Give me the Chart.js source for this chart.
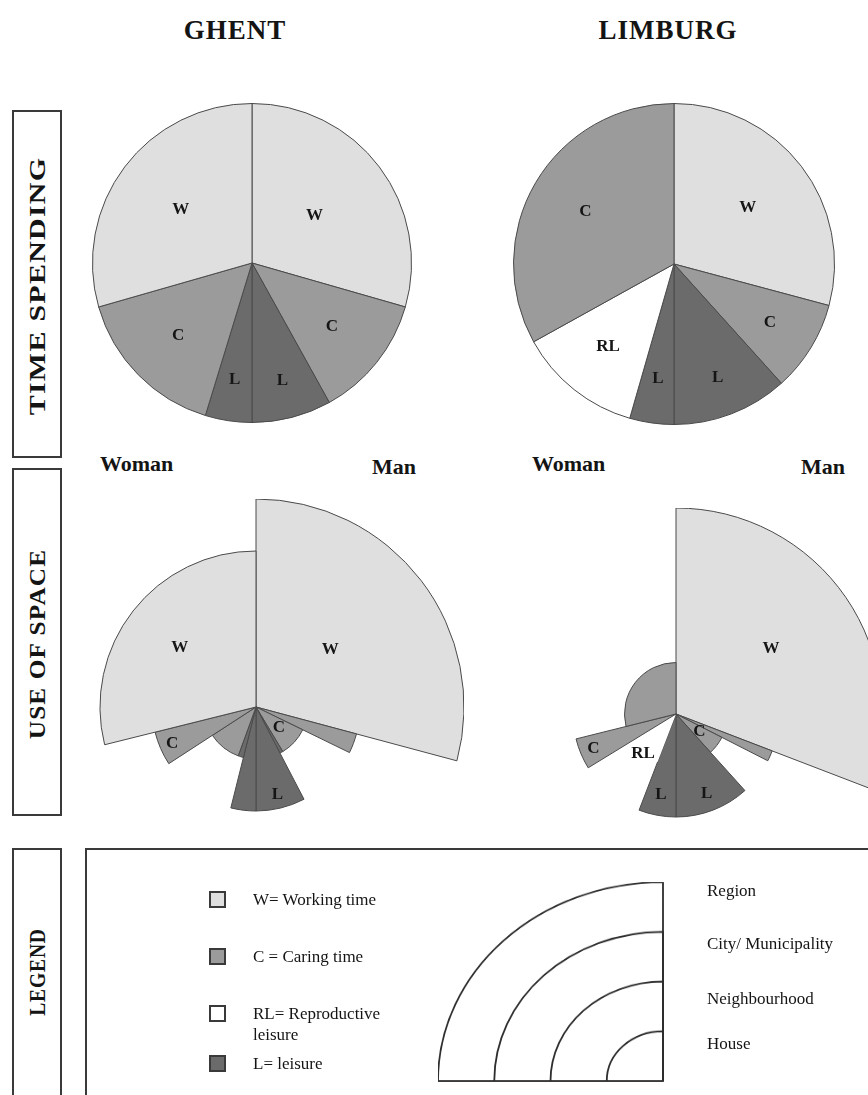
<!DOCTYPE html>
<html>
<head>
<meta charset="utf-8">
<script src="https://cdn.jsdelivr.net/npm/chart.js@4"></script>
<style>
html,body{margin:0;padding:0;background:#fff;overflow:hidden;}
#page{position:relative;width:868px;height:1095px;overflow:hidden;font-family:"Liberation Serif","DejaVu Serif",serif;color:#141414;}
canvas{position:absolute;}
.txt{position:absolute;white-space:nowrap;}
.box{position:absolute;border:2px solid #3a3a3a;box-sizing:border-box;}
.rowlabel{position:absolute;left:50%;top:50%;font-weight:bold;font-size:23px;line-height:23px;letter-spacing:1px;white-space:nowrap;}
.sq{position:absolute;width:17px;height:17px;border:2px solid #3a3a3a;box-sizing:border-box;}
</style>
</head>
<body>
<div id="page">
  <div class="box" id="row0" style="left:12px;top:110px;width:50px;height:348px;"></div>
  <div class="box" id="row1" style="left:12px;top:468px;width:50px;height:348px;"></div>
  <div class="box" id="row2" style="left:12px;top:848px;width:50px;height:300px;"></div>
  <div class="box" style="left:85px;top:848px;width:900px;height:400px;"></div>
  <canvas id="ghentTime" width="320" height="320" style="left:92px;top:103px;"></canvas>
  <canvas id="limburgTime" width="322" height="322" style="left:513px;top:103px;"></canvas>
  <canvas id="ghentSpace" width="416" height="416" style="left:48px;top:499px;"></canvas>
  <canvas id="limburgSpace" width="412" height="412" style="left:470px;top:508px;"></canvas>
  <canvas id="legendArcs" width="450" height="450" style="left:438px;top:856px;transform-origin:225px 225px;transform:scale(1,0.884);"></canvas>
</div>
<script>
// ---------- data ----------
const cities = ['GHENT', 'LIMBURG'];
const rowTitles = ['TIME SPENDING', 'USE OF SPACE', 'LEGEND'];
const genders = ['Woman', 'Man'];

// Time spending pies: degrees of arc, clockwise from 12 o'clock (Man half, then Woman half; each half = 180)
const ghentTimeCats   = ['W', 'C', 'L', 'L', 'C', 'W'];
const ghentTimeDeg    = [106, 45, 29, 17, 57, 106];
const limburgTimeCats = ['W', 'C', 'L', 'L', 'RL', 'C'];
const limburgTimeDeg  = [105, 33, 42, 16, 45, 119];

// Use of space: arc angle (degrees, clockwise from 12 o'clock) and spatial level reached (1..4)
const spaceLevels = ['House', 'Neighbourhood', 'City/ Municipality', 'Region'];
const ghentSpaceCats    = ['W', 'C', 'C', 'L', 'L', 'L', 'L', 'C', 'C', 'W'];
const ghentSpaceDeg     = [105, 11, 33, 3.5, 27.5, 14, 6, 37, 19, 104];
const ghentSpaceLevel   = [4, 2, 1, 1, 2, 2, 1, 1, 2, 3];
const limburgSpaceCats  = ['W', 'C', 'C', 'L', 'L', 'RL', 'C', 'C'];
const limburgSpaceDeg   = [111, 6, 21, 42, 21, 37.5, 17.5, 104];
const limburgSpaceLevel = [4, 2, 1, 2, 2, 1, 2, 1];

const legendCats  = ['W', 'C', 'RL', 'L'];
const legendTexts = ['W= Working time', 'C = Caring time', 'RL= Reproductive leisure', 'L= leisure'];

// ---------- styles ----------
const COLORS = {W: '#dfdfdf', C: '#9b9b9b', L: '#6b6b6b', RL: '#ffffff'};
const EDGE = '#4a4a4a';
const page = document.getElementById('page');

function addText(str, x, y, css, anchor) {
  const d = document.createElement('div');
  d.className = 'txt';
  d.textContent = str;
  d.style.cssText += css;
  d.style.left = x + 'px';
  d.style.top = y + 'px';
  d.style.transform = anchor === 'center' ? 'translate(-50%,-50%)' : 'translate(0,-50%)';
  page.appendChild(d);
  return d;
}

// titles
const titleX = [235, 668];
cities.forEach((c, i) => addText(c, titleX[i], 30, 'font-weight:bold;font-size:27px;line-height:27px;letter-spacing:1px;', 'center'));

// gender labels
const genderPos = [[100, 464], [372, 467], [532, 464], [801, 467]];
genderPos.forEach((p, i) => addText(genders[i % 2], p[0], p[1], 'font-weight:bold;font-size:22px;line-height:22px;', 'left'));

// row labels (vertical)
const rowLabelCenter = [174, 174, 122];
const rowLabelStretch = [1.3, 1.1, 0.85];
rowTitles.forEach((t, i) => {
  const s = document.createElement('div');
  s.className = 'rowlabel';
  s.textContent = t;
  s.style.top = rowLabelCenter[i] + 'px';
  s.style.transform = 'translate(-50%,-50%) rotate(-90deg) scale(' + rowLabelStretch[i] + ',1)';
  document.getElementById('row' + i).appendChild(s);
});

// legend items
const legendY = [900, 957, 1014, 1064];
legendCats.forEach((c, i) => {
  const sq = document.createElement('div');
  sq.className = 'sq';
  sq.style.left = '209px';
  sq.style.top = (legendY[i] - 9) + 'px';
  sq.style.background = COLORS[c];
  page.appendChild(sq);
  const t = document.createElement('div');
  t.className = 'txt';
  t.textContent = legendTexts[i];
  t.style.cssText += 'white-space:normal;width:150px;font-size:17px;line-height:21px;';
  t.style.left = '253px';
  t.style.top = (legendY[i] - 11) + 'px';
  page.appendChild(t);
});
const levelY = [1043, 998, 943, 890];
spaceLevels.forEach((l, i) => addText(l, 707, levelY[i], 'font-size:17px;line-height:17px;', 'left'));

// ---------- chart plugin: category letters inside arcs ----------
const segLabels = {
  id: 'segLabels',
  afterDatasetsDraw(chart, args, opts) {
    if (!opts.texts) return;
    const ctx = chart.ctx;
    const meta = chart.getDatasetMeta(0);
    ctx.save();
    ctx.font = 'bold 17px "Liberation Serif", serif';
    ctx.fillStyle = '#151515';
    ctx.textAlign = 'center';
    ctx.textBaseline = 'middle';
    meta.data.forEach((arc, i) => {
      const f = opts.at[i];
      if (!f) return;
      const p = arc.getProps(['x', 'y', 'startAngle', 'endAngle', 'outerRadius'], true);
      const a = (p.startAngle + p.endAngle) / 2;
      const r = p.outerRadius * f;
      ctx.fillText(opts.texts[i], p.x + Math.cos(a) * r, p.y + Math.sin(a) * r);
    });
    ctx.restore();
  }
};

const baseOpts = {responsive: false, animation: false, events: []};

function timePie(id, cats, deg, at) {
  new Chart(document.getElementById(id), {
    type: 'pie',
    data: {labels: cats, datasets: [{data: deg, backgroundColor: cats.map(c => COLORS[c]), borderColor: EDGE, borderWidth: 1}]},
    options: Object.assign({}, baseOpts, {plugins: {legend: {display: false}, tooltip: {enabled: false}, segLabels: {texts: cats, at: at}}}),
    plugins: [segLabels]
  });
}

function spacePolar(id, cats, deg, level, at) {
  new Chart(document.getElementById(id), {
    type: 'polarArea',
    data: {labels: cats, datasets: [{
      data: level,
      angle: ctx => deg[ctx.dataIndex],
      backgroundColor: cats.map(c => COLORS[c]),
      borderColor: cats.map(c => c === 'RL' ? 'rgba(0,0,0,0)' : EDGE),
      borderWidth: 1
    }]},
    options: Object.assign({}, baseOpts, {
      scales: {r: {display: false, min: 0, max: 4, startAngle: 0}},
      plugins: {legend: {display: false}, tooltip: {enabled: false}, segLabels: {texts: cats, at: at}}
    }),
    plugins: [segLabels]
  });
}

timePie('ghentTime', ghentTimeCats, ghentTimeDeg, [0.49, 0.64, 0.76, 0.74, 0.65, 0.56]);
timePie('limburgTime', limburgTimeCats, limburgTimeDeg, [0.58, 0.7, 0.76, 0.72, 0.66, 0.64]);
spacePolar('ghentSpace', ghentSpaceCats, ghentSpaceDeg, ghentSpaceLevel, [0.45, 0, 0.6, 0, 0.87, 0, 0, 0, 0.88, 0.62]);
spacePolar('limburgSpace', limburgSpaceCats, limburgSpaceDeg, limburgSpaceLevel, [0.56, 0, 0.57, 0.83, 0.8, 1.0, 0.87, 0]);

// legend: concentric quarter circles, one per spatial level
new Chart(document.getElementById('legendArcs'), {
  type: 'polarArea',
  data: {labels: [''], datasets: spaceLevels.map((l, i) => ({
    label: l, data: [i + 1], angle: 90,
    backgroundColor: 'rgba(0,0,0,0)', borderColor: '#2e2e2e', borderWidth: 1.8
  }))},
  options: Object.assign({}, baseOpts, {
    scales: {r: {display: false, min: 0, max: 4, startAngle: 270}},
    plugins: {legend: {display: false}, tooltip: {enabled: false}}
  })
});
</script>
</body>
</html>
